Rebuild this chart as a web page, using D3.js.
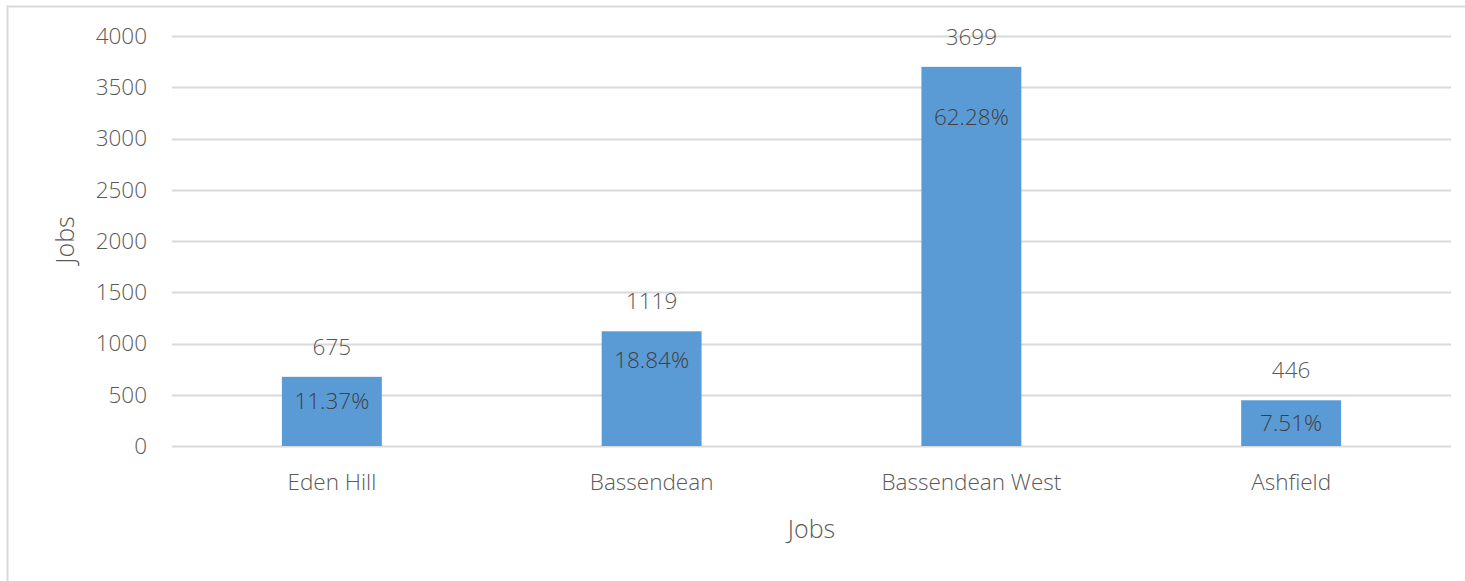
<!DOCTYPE html>
<html>
<head>
<meta charset="utf-8">
<script src="https://cdn.jsdelivr.net/npm/d3@7"></script>
<style>
  body { margin: 0; background: #fff; overflow: hidden; }
  text { font-family: "Open Sans", "Segoe UI", sans-serif; font-weight: 300; }
</style>
</head>
<body>
<script>
//chart data
var suburbs = ["Eden Hill", "Bassendean", "Bassendean West", "Ashfield"];
var jobs = [675, 1119, 3699, 446];
var shares = ["11.37%", "18.84%", "62.28%", "7.51%"];
var yTicks = [0, 500, 1000, 1500, 2000, 2500, 3000, 3500, 4000];

//canvas dimensions and margins
var W = 1465, H = 581;
var margin = { top: 36, right: 14, bottom: 135, left: 172 },
    width = W - margin.left - margin.right,
    height = H - margin.top - margin.bottom;

var root = d3.select("body").append("svg")
    .attr("width", W)
    .attr("height", H);

//outer chart border
root.append("rect")
    .attr("x", 7.5).attr("y", 6.5)
    .attr("width", W + 20).attr("height", H + 20)
    .attr("fill", "none")
    .attr("stroke", "#d9d9d9")
    .attr("stroke-width", 2);

var svg = root.append("g")
    .attr("transform", "translate(" + margin.left + "," + margin.top + ")");

//scales
var xScale = d3.scaleBand()
    .domain(suburbs)
    .range([0, width])
    .padding(0);

var yScale = d3.scaleLinear()
    .domain([0, 4000])
    .range([height, 0]);

// percent labels sit on a secondary scale, like the excel chart
var pctScale = d3.scaleLinear()
    .domain([0, 73.4])
    .range([height, 0]);

var barW = xScale.bandwidth() * 0.3125;

//gridlines + y axis labels
svg.append("g")
    .attr("class", "grid")
    .selectAll("line")
    .data(yTicks)
    .enter().append("line")
    .attr("x1", 0)
    .attr("x2", width)
    .attr("y1", function(d) { return Math.round(yScale(d)) + 0.5; })
    .attr("y2", function(d) { return Math.round(yScale(d)) + 0.5; })
    .attr("stroke", "#d9d9d9")
    .attr("stroke-width", 2);

svg.append("g")
    .attr("class", "y axis")
    .selectAll("text")
    .data(yTicks)
    .enter().append("text")
    .attr("x", -25)
    .attr("y", function(d) { return yScale(d); })
    .attr("dy", "0.35em")
    .attr("text-anchor", "end")
    .attr("fill", "#595959")
    .style("font-size", "22.5px")
    .text(function(d) { return d; });

//bars
svg.selectAll(".bar")
    .data(jobs)
    .enter().append("rect")
    .attr("class", "bar")
    .attr("x", function(d, i) { return xScale(suburbs[i]) + (xScale.bandwidth() - barW) / 2; })
    .attr("y", function(d) { return yScale(d); })
    .attr("width", barW)
    .attr("height", function(d) { return height - yScale(d); })
    .attr("fill", "#5b9bd5");

//value labels above bars
svg.selectAll(".val")
    .data(jobs)
    .enter().append("text")
    .attr("class", "val")
    .attr("x", function(d, i) { return xScale(suburbs[i]) + xScale.bandwidth() / 2; })
    .attr("y", function(d) { return yScale(d) - 30; })
    .attr("dy", "0.35em")
    .attr("text-anchor", "middle")
    .attr("fill", "#595959")
    .style("font-size", "22.5px")
    .text(function(d) { return d; });

//percent labels inside bars
svg.selectAll(".pct")
    .data(shares)
    .enter().append("text")
    .attr("class", "pct")
    .attr("x", function(d, i) { return xScale(suburbs[i]) + xScale.bandwidth() / 2; })
    .attr("y", function(d) { return pctScale(parseFloat(d)) + 19; })
    .attr("dy", "0.35em")
    .attr("text-anchor", "middle")
    .attr("fill", "#404040")
    .style("font-size", "22.5px")
    .text(function(d) { return d; });

//x category labels
svg.append("g")
    .attr("class", "x axis")
    .selectAll("text")
    .data(suburbs)
    .enter().append("text")
    .attr("x", function(d) { return xScale(d) + xScale.bandwidth() / 2; })
    .attr("y", height + 36)
    .attr("dy", "0.35em")
    .attr("text-anchor", "middle")
    .attr("fill", "#595959")
    .style("font-size", "22.5px")
    .text(function(d) { return d; });

//axis titles
svg.append("text")
    .attr("x", width / 2)
    .attr("y", height + 83)
    .attr("dy", "0.35em")
    .attr("text-anchor", "middle")
    .attr("fill", "#595959")
    .style("font-size", "25px")
    .text("Jobs");

svg.append("text")
    .attr("transform", "translate(" + (65 - margin.left) + "," + (240 - margin.top) + ") rotate(-90)")
    .attr("dy", "0.35em")
    .attr("text-anchor", "middle")
    .attr("fill", "#595959")
    .style("font-size", "25px")
    .text("Jobs");
</script>
</body>
</html>
